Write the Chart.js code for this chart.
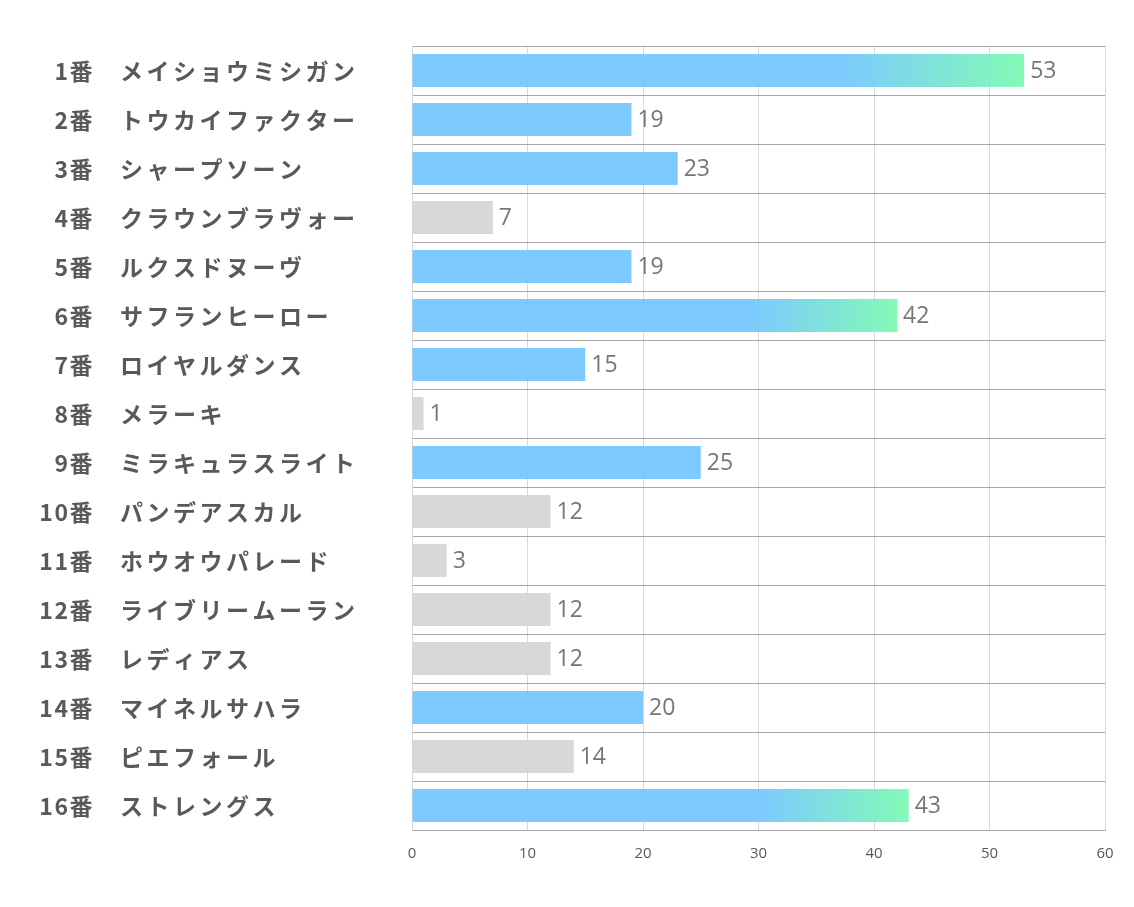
<!DOCTYPE html>
<html>
<head>
<meta charset="utf-8">
<script src="https://cdn.jsdelivr.net/npm/chart.js@4"></script>
<style>
  html, body { margin: 0; padding: 0; background: #fff; }
  #wrap { width: 1134px; height: 907px; }
</style>
</head>
<body>
<div id="wrap"><canvas id="chart"></canvas></div>
<script>
const horseNumbers = ["1番", "2番", "3番", "4番", "5番", "6番", "7番", "8番", "9番", "10番", "11番", "12番", "13番", "14番", "15番", "16番"];
const horseNames = ["メイショウミシガン", "トウカイファクター", "シャープソーン", "クラウンブラヴォー", "ルクスドヌーヴ", "サフランヒーロー", "ロイヤルダンス", "メラーキ", "ミラキュラスライト", "パンデアスカル", "ホウオウパレード", "ライブリームーラン", "レディアス", "マイネルサハラ", "ピエフォール", "ストレングス"];
const scores = [53, 19, 23, 7, 19, 42, 15, 1, 25, 12, 3, 12, 12, 20, 14, 43];
// top = gradient, blue = plain blue, gray = not selected
const barGroup = ["top", "blue", "blue", "gray", "blue", "top", "blue", "gray", "blue", "gray", "gray", "gray", "gray", "blue", "gray", "top"];
const xTicks = [0, 10, 20, 30, 40, 50, 60];

const BLUE = "rgba(118, 199, 255, 0.95)";
const GREEN = "rgba(124, 250, 178, 0.95)";
const GRAY = "rgba(214, 214, 214, 0.95)";

function barColor(ctx) {
    const group = barGroup[ctx.dataIndex];
    if (group === "gray") return GRAY;
    if (group === "blue") return BLUE;
    const chart = ctx.chart;
    if (!chart.chartArea) return BLUE;
    const xs = chart.scales.x;
    const x0 = xs.getPixelForValue(0);
    const x1 = xs.getPixelForValue(scores[ctx.dataIndex]);
    const g = chart.ctx.createLinearGradient(x0, 0, x1, 0);
    g.addColorStop(0, BLUE);
    g.addColorStop(0.7, BLUE);
    g.addColorStop(1, GREEN);
    return g;
}

// name labels: number right aligned, horse name left aligned
const nameLabels = {
    id: "nameLabels",
    afterDraw(chart) {
        const c = chart.ctx;
        const ys = chart.scales.y;
        c.save();
        c.fillStyle = "#595959";
        c.font = "bold 23px 'Noto Sans CJK JP'";
        c.textBaseline = "middle";
        horseNumbers.forEach((n, i) => {
            const y = ys.getPixelForValue(i) + 1;
            c.letterSpacing = "1.5px";
            c.textAlign = "right";
            c.fillText(n, 94, y);
            c.letterSpacing = "3.5px";
            c.textAlign = "left";
            c.fillText(horseNames[i], 120, y);
        });
        c.restore();
    }
};

// value labels at bar ends
const valueLabels = {
    id: "valueLabels",
    afterDatasetsDraw(chart) {
        const c = chart.ctx;
        const meta = chart.getDatasetMeta(0);
        c.save();
        c.fillStyle = "#767676";
        c.font = "23px 'Open Sans'";
        c.textAlign = "left";
        c.textBaseline = "middle";
        meta.data.forEach((bar, i) => {
            c.fillText(String(scores[i]), bar.x + 6, bar.y + 1);
        });
        c.restore();
    }
};

new Chart(document.getElementById("chart"), {
    type: "bar",
    data: {
        labels: horseNames,
        datasets: [{
            data: scores,
            backgroundColor: barColor,
            borderWidth: 0,
            categoryPercentage: 1,
            barPercentage: 0.67
        }]
    },
    options: {
        indexAxis: "y",
        responsive: true,
        maintainAspectRatio: false,
        animation: false,
        layout: { padding: { top: 46, right: 29, bottom: 0, left: 0 } },
        plugins: { legend: { display: false }, tooltip: { enabled: false } },
        scales: {
            x: {
                min: 0,
                max: 60,
                afterBuildTicks(scale) { scale.ticks = xTicks.map(v => ({ value: v })); },
                afterFit(scale) { scale.height = 77; },
                grid: { color: "#d9d9d9", lineWidth: 1, drawTicks: false },
                border: { display: true, color: "#a6a6a6" },
                ticks: { color: "#595959", font: { family: "'Open Sans'", size: 15 }, padding: 15 }
            },
            y: {
                afterFit(scale) { scale.width = 412; },
                grid: { color: "#a6a6a6", lineWidth: 1, drawTicks: false, offset: true },
                border: { display: true, color: "#d9d9d9" },
                ticks: { display: false }
            }
        }
    },
    plugins: [nameLabels, valueLabels]
});
</script>
</body>
</html>
